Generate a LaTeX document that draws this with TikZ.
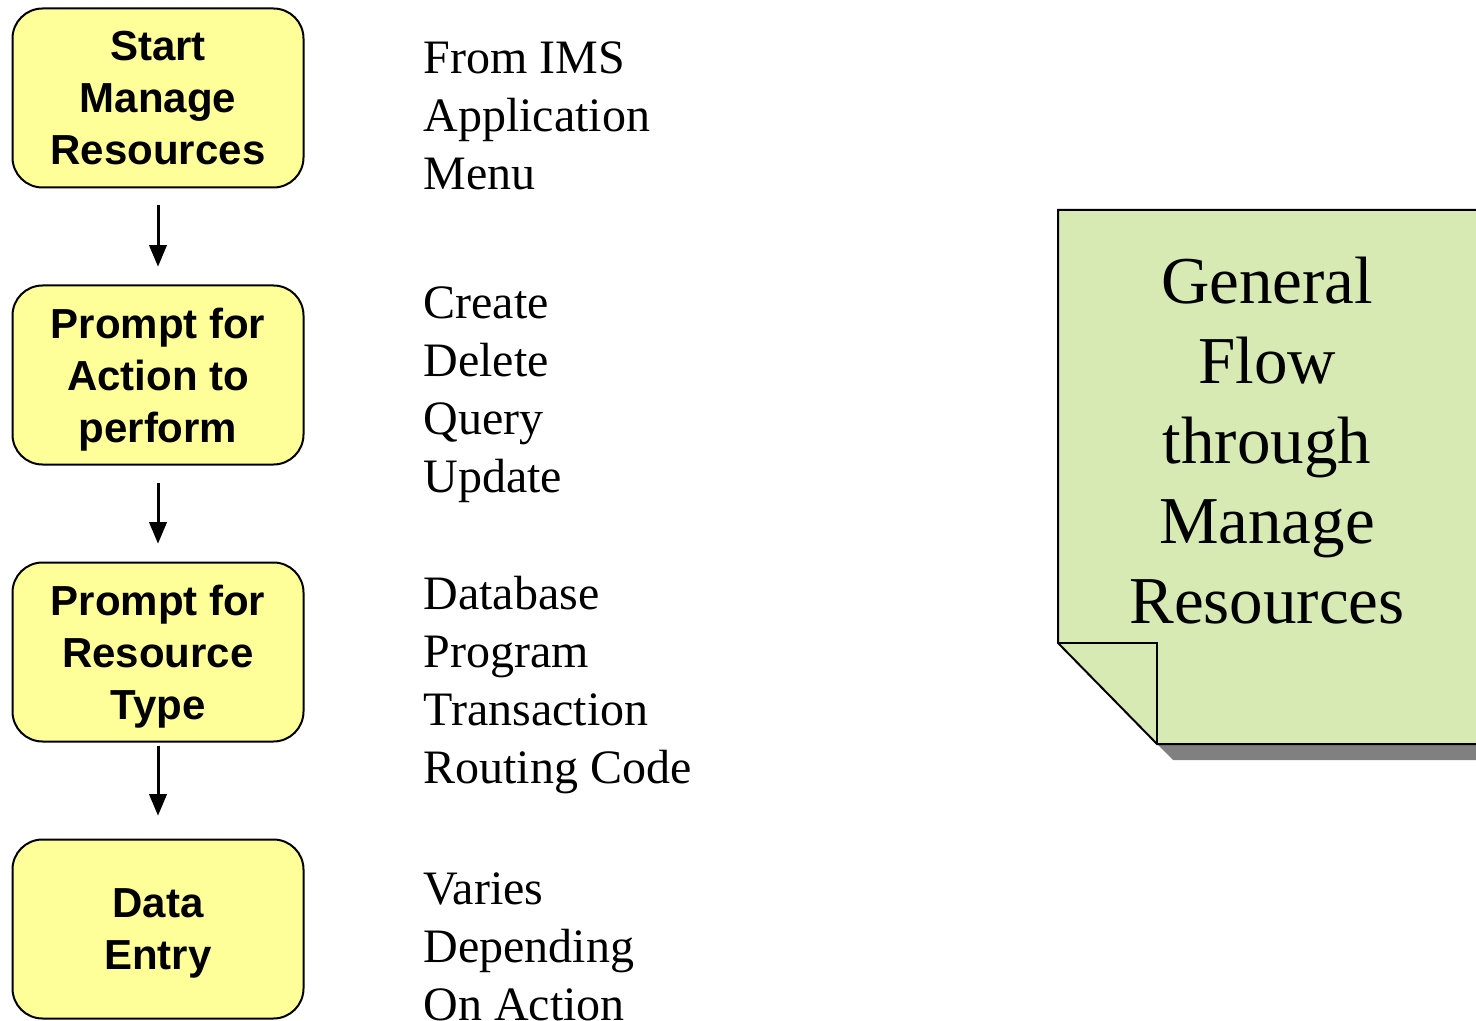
\documentclass[tikz,border=0pt]{standalone}
\usepackage{fontspec}
\setmainfont{Liberation Serif}
\setsansfont{Liberation Sans}
\usetikzlibrary{arrows,positioning}
\definecolor{stepyellow}{RGB}{255,255,153}
\definecolor{notegreen}{RGB}{216,234,180}
\definecolor{notegray}{RGB}{128,128,128}

\begin{document}
\begin{tikzpicture}[x=0.5pt,y=-0.5pt,->,>=triangle 45,line width=1.5pt,
	shorten >=9pt,shorten <=8.5pt,node distance=48pt]
	\tikzstyle{stepbox}=[draw,line width=1pt,fill=stepyellow,rounded corners=15pt,
	minimum width=145.5pt,minimum height=89.5pt,align=center,text depth=0pt,
	font=\sffamily\bfseries\fontsize{21pt}{26pt}\selectfont]
	\tikzstyle{choices}=[anchor=west,inner sep=0pt,align=left,
	font=\fontsize{24pt}{29pt}\selectfont]
	\useasboundingbox (0,0) rectangle (1476,1021);
	% note on the right
	\fill[notegray] (1157,744) -- (1173,760) -- (1490,760) -- (1490,744) -- cycle;
	\filldraw[-,fill=notegreen,line width=1pt,shorten >=0pt,shorten <=0pt]
	(1058,210) -- (1490,210) -- (1490,744) -- (1157,744) -- (1058,643) -- cycle;
	\draw[-,line width=1pt,shorten >=0pt,shorten <=0pt]
	(1058,643) -- (1157,643) -- (1157,744);
	\node[align=center,font=\fontsize{33.5pt}{40pt}\selectfont] (title) at (1267,441)
	{General\\Flow\\through\\Manage\\Resources};
	
	\node[stepbox] (start) at (158,98) {Start\\Manage\\Resources};
	\node[stepbox] (action) [below=of start] {Prompt for\\Action to\\perform};
	\node[stepbox] (type)   [below=of action] {Prompt for\\Resource\\Type};
	\node[stepbox] (entry)  [below=of type] {Data\\Entry};
	
	\node[choices] (from)    at (422,116)  {From IMS\\Application\\Menu};
	\node[choices] (actions) at (422,395)  {Create\\Delete\\Query\\Update};
	\node[choices] (types)   at (422,685)  {Database\\Program\\Transaction\\Routing Code};
	\node[choices] (varies)  at (422,947)  {Varies\\Depending\\On Action};
	
	\path (start) edge (action);
	\path (action) edge (type);
	\path (type) edge [shorten <=1.5pt,shorten >=11.5pt] (entry);
\end{tikzpicture}
\end{document}
